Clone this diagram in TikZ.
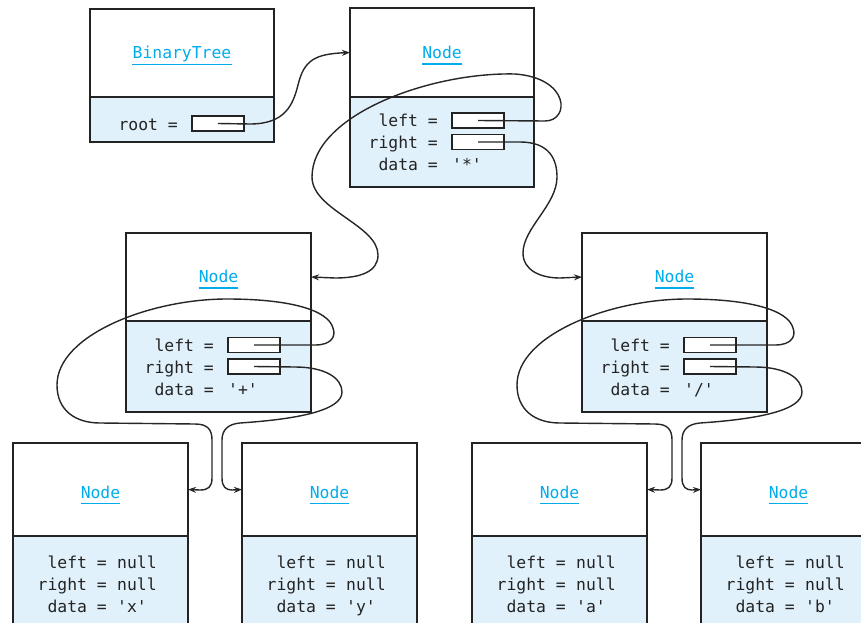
\documentclass[tikz,border=0pt]{standalone}
\usepackage{fontspec}
\setmonofont{DejaVu Sans Mono}
\usetikzlibrary{arrows.meta,calc}

\definecolor{inkgray}{RGB}{35,35,35}
\definecolor{titlecyan}{RGB}{0,172,236}
\definecolor{fieldblue}{RGB}{225,241,251}

\tikzset{
  objpart/.style={draw=inkgray, line width=1.6pt, inner sep=0pt, outer sep=0pt, anchor=north west},
  headpart/.style={objpart, fill=white},
  bodypart/.style={objpart, fill=fieldblue},
  classname/.style={text=titlecyan, inner sep=0pt, anchor=base},
  nameline/.style={draw=titlecyan, line width=1.8pt},
  rowtext/.style={text=inkgray, inner sep=0pt},
  slot/.style={draw=inkgray, line width=1.4pt, fill=white, minimum width=52pt, minimum height=15pt, inner sep=0pt},
  link/.style={draw=black!85, line width=1.4pt, -{Stealth[length=8pt,width=6pt]}},
}

% object box: #1 name, #2 x, #3 y, #4 width, #5 header height, #6 body height, #7 class name, #8 label drop
\newcommand\objbox[8]{%
  \node[headpart, minimum width=#4pt, minimum height=#5pt] (#1H) at (#2,#3) {};
  \node[bodypart, minimum width=#4pt, minimum height=#6pt] (#1B) at (#1H.south west) {};
  \node[classname] (#1N) at ([yshift=-#8pt]#1H.center) {#7};
  \draw[nameline] ([yshift=-5.5pt]#1N.base west) -- ([yshift=-5.5pt]#1N.base east);
}
% reference field: #1 object, #2 baseline below divider, #3 slot name, #4 label
\newcommand\ptrrow[4]{%
  \node[rowtext, anchor=base east] at ($(#1B.north west)+(88,#2)$) {#4};
  \node[slot] (#3) at ($(#1B.north west)+(128,#2-6.5)$) {};
}
% value field: #1 object, #2 x of '=', #3 x of value, #4 baseline, #5 label, #6 value
\newcommand\valrow[6]{%
  \node[rowtext, anchor=base east] at ($(#1B.north west)+(#2,#4)$) {#5};
  \node[rowtext, anchor=base west] at ($(#1B.north west)+(#3,#4)$) {#6};
}

\begin{document}
\begin{tikzpicture}[x=1pt, y=-1pt, font=\ttfamily\fontsize{16.4}{20}\selectfont]
\useasboundingbox (0,0) rectangle (861,623);
\clip (0,0) rectangle (861,623);

% the tree object
\objbox{bt}{90}{9}{184}{88}{45}{BinaryTree}{6}
\ptrrow{bt}{33}{rootF}{root =}

% root node
\objbox{t}{350}{8}{184}{89}{90}{Node}{6}
\ptrrow{t}{30}{tLf}{left =}
\ptrrow{t}{51.5}{tRf}{right =}
\valrow{t}{88}{102}{73}{data =}{'*'}

% inner nodes
\objbox{l}{126}{233}{185}{88}{91}{Node}{5.5}
\ptrrow{l}{30.5}{lLf}{left =}
\ptrrow{l}{52}{lRf}{right =}
\valrow{l}{88}{102}{74}{data =}{'+'}

\objbox{r}{582}{233}{185}{88}{91}{Node}{5.5}
\ptrrow{r}{30.5}{rLf}{left =}
\ptrrow{r}{52}{rRf}{right =}
\valrow{r}{88}{102}{74}{data =}{'/'}

% leaves
\objbox{ll}{13}{443}{175}{93}{120}{Node}{8.5}
\valrow{ll}{94}{104}{32}{left =}{null}
\valrow{ll}{94}{104}{54}{right =}{null}
\valrow{ll}{94}{104}{76}{data =}{'x'}

\objbox{lr}{242}{443}{175}{93}{120}{Node}{8.5}
\valrow{lr}{94}{104}{32}{left =}{null}
\valrow{lr}{94}{104}{54}{right =}{null}
\valrow{lr}{94}{104}{76}{data =}{'y'}

\objbox{rl}{472}{443}{175}{93}{120}{Node}{8.5}
\valrow{rl}{94}{104}{32}{left =}{null}
\valrow{rl}{94}{104}{54}{right =}{null}
\valrow{rl}{94}{104}{76}{data =}{'a'}

\objbox{rr}{701}{443}{175}{93}{120}{Node}{8.5}
\valrow{rr}{94}{104}{32}{left =}{null}
\valrow{rr}{94}{104}{54}{right =}{null}
\valrow{rr}{94}{104}{76}{data =}{'b'}

% references
\draw[link] (rootF.center) -- (250,124) .. controls (285,124) and (293,105) .. (298,85)
  .. controls (304,60) and (315,54) .. (tH.west);

\draw[link] (tLf.center) -- (545,121) .. controls (570,121) and (570,78) .. (515,74)
  .. controls (430,72) and (312,115) .. (312,177)
  .. controls (312,210) and (378,225) .. (378,255)
  .. controls (378,272) and (360,278) .. (335,278) -- (lH.east);

\draw[link] (tRf.center) -- (520,142) .. controls (550,142) and (557,160) .. (557,177)
  .. controls (557,205) and (523,228) .. (523,253)
  .. controls (523,270) and (540,278) .. (560,278) -- (rH.west);

\draw[link] (lLf.center) -- (315,345) .. controls (332,345) and (336,336) .. (333,328)
  .. controls (328,310) and (290,299) .. (227,299)
  .. controls (150,299) and (57,335) .. (57,385)
  .. controls (57,410) and (75,423) .. (100,423) -- (195,424)
  .. controls (208,424) and (212,430) .. (212,440) -- (212,478)
  .. controls (212,487) and (208,490) .. (200,490) -- (llH.east);

\draw[link] (lRf.center) -- (295,367) .. controls (325,367) and (342,378) .. (342,392)
  .. controls (342,410) and (300,419) .. (240,423)
  .. controls (228,424) and (222,430) .. (222,440) -- (222,478)
  .. controls (222,487) and (226,490) .. (232,490) -- (lrH.west);

\draw[link] (rLf.center) -- (775,345) .. controls (792,345) and (796,336) .. (793,328)
  .. controls (788,310) and (750,299) .. (687,299)
  .. controls (610,299) and (517,335) .. (517,385)
  .. controls (517,410) and (535,423) .. (560,423) -- (655,424)
  .. controls (668,424) and (672,430) .. (672,440) -- (672,478)
  .. controls (672,487) and (668,490) .. (660,490) -- (rlH.east);

\draw[link] (rRf.center) -- (755,367) .. controls (785,367) and (802,378) .. (802,392)
  .. controls (802,410) and (760,419) .. (700,423)
  .. controls (688,424) and (682,430) .. (682,440) -- (682,478)
  .. controls (682,487) and (686,490) .. (692,490) -- (rrH.west);
\end{tikzpicture}
\end{document}
